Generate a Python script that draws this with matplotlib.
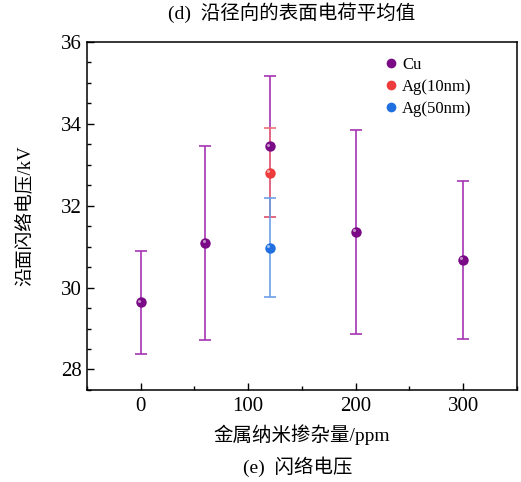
import matplotlib
matplotlib.use('Agg')
import matplotlib.pyplot as plt
import matplotlib.transforms as mtransforms
from matplotlib.lines import Line2D
from matplotlib.ticker import MultipleLocator

plt.rcParams['font.family'] = ['Liberation Serif', 'Noto Sans CJK SC']
plt.rcParams['axes.unicode_minus'] = False

# data
cu_x = [0, 60, 120, 200, 300]
cu_y = [29.64, 31.09, 33.45, 31.36, 30.67]
cu_err = [1.26, 2.37, 1.72, 2.50, 1.93]

ag10_x = [120]
ag10_y = [32.81]
ag10_err = [1.08]

ag50_x = [120]
ag50_y = [30.97]
ag50_err = [1.21]

series = [
    ('Cu', cu_x, cu_y, cu_err, '#7a0a86', '#a634b4'),
    ('Ag(10nm)', ag10_x, ag10_y, ag10_err, '#ee3b3b', '#ec6f78'),
    ('Ag(50nm)', ag50_x, ag50_y, ag50_err, '#1f6fe0', '#6c9fe6'),
]

fig = plt.figure(figsize=(5.21, 4.82), dpi=100)
ax = fig.add_axes([0.167, 0.191, 0.825, 0.722])

handles = []
for name, xs, ys, errs, mcol, ecol in series:
    ax.errorbar(xs, ys, yerr=errs, fmt='none', ecolor=ecol, elinewidth=1.2,
                capsize=4, capthick=1.2, zorder=2)
    ax.plot(xs, ys, 'o', color=mcol, markersize=7.5, markeredgewidth=0,
            zorder=4)
    # little highlight to give the ball look
    hl = mtransforms.offset_copy(ax.transData, fig=fig, x=-1.2, y=1.2,
                                 units='points')
    ax.plot(xs, ys, 'o', color='white', alpha=0.55, markersize=2.2,
            markeredgewidth=0, transform=hl, zorder=5)
    handles.append(Line2D([], [], linestyle='none', marker='o', color=mcol,
                          markersize=7, markeredgewidth=0))

ax.set_xlim(-50, 350)
ax.set_ylim(27.5, 36)
ax.xaxis.set_major_locator(MultipleLocator(100))
ax.xaxis.set_minor_locator(MultipleLocator(50))
ax.yaxis.set_major_locator(MultipleLocator(2))
ax.yaxis.set_minor_locator(MultipleLocator(0.5))
ax.tick_params(which='both', direction='in', labelsize=15, width=1)
ax.tick_params(which='major', length=5)
ax.tick_params(which='minor', length=3)
ax.tick_params(axis='x', which='major', pad=5)
ax.tick_params(axis='y', which='both', right=False)
for sp in ax.spines.values():
    sp.set_linewidth(1.1)

ax.set_xlabel('金属纳米掺杂量/ppm', fontsize=14, labelpad=6)
ax.set_ylabel('沿面闪络电压/kV', fontsize=13.5, labelpad=20)

ax.legend(handles, [s[0] for s in series], loc='upper right',
          bbox_to_anchor=(0.93, 1.0), frameon=False, fontsize=12,
          handletextpad=0.1, handlelength=1.2, labelspacing=0.35)

fig.text(292 / 521, 1 - 13 / 482, '(d)  沿径向的表面电荷平均值', ha='center',
         va='center', fontsize=14)
fig.text(243 / 521, 1 - 467 / 482, '(e)  闪络电压', ha='left',
         va='center', fontsize=14)

fig.savefig('out.png', dpi=100)
